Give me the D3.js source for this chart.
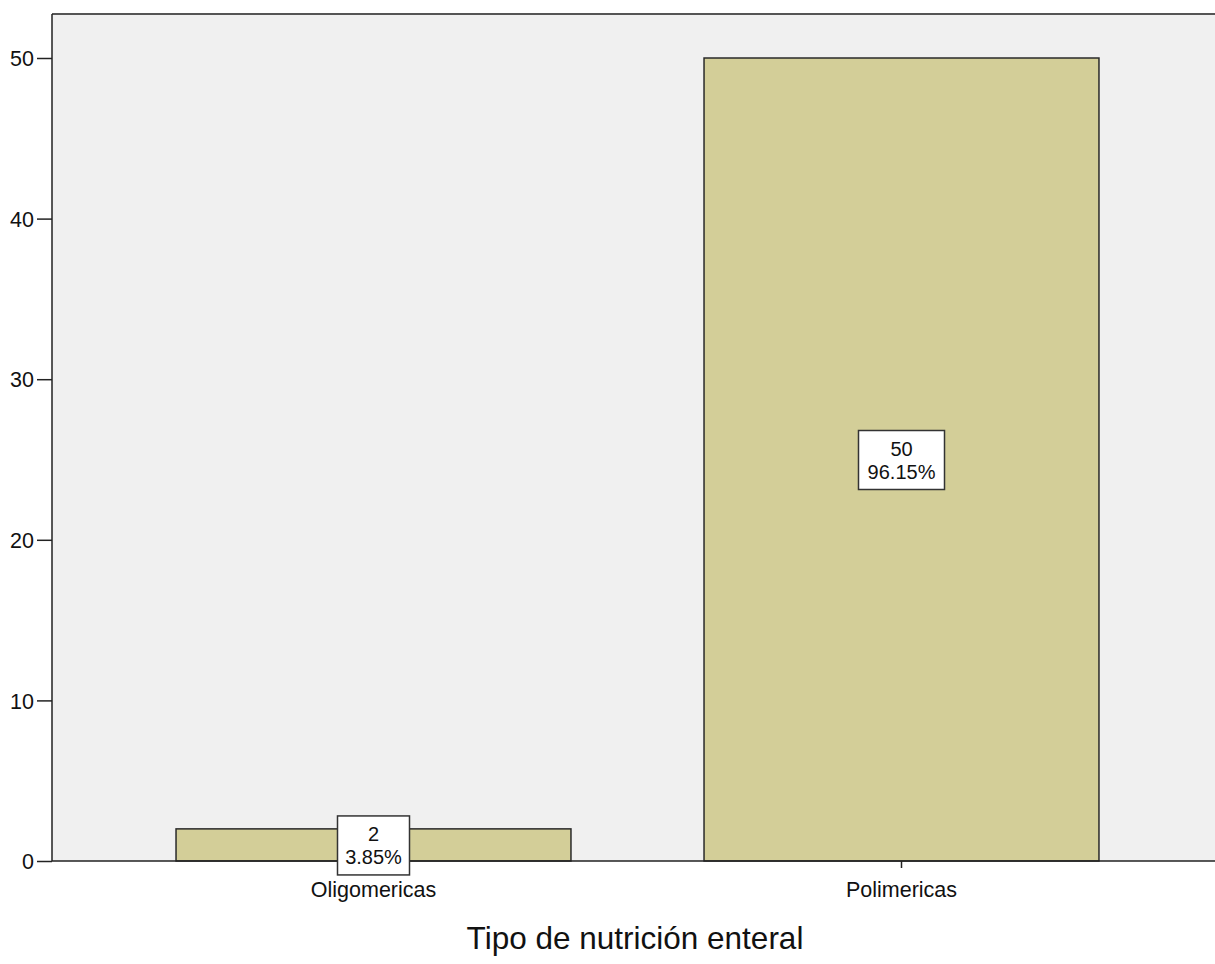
<!DOCTYPE html>
<html><head><meta charset="utf-8">
<script src="https://cdn.jsdelivr.net/npm/d3@7"></script>
<style>body{margin:0;background:#fff}svg{display:block}</style>
</head><body>
<svg id="c" width="1215" height="964"></svg>
<script>
const categories = ["Oligomericas", "Polimericas"];
const counts = [2, 50];
const percents = ["3.85%", "96.15%"];
const yTicks = [0, 10, 20, 30, 40, 50];
const xTitle = "Tipo de nutrición enteral";

const svg = d3.select("#c");
const L = 52, T = 14, R = 1215, B = 861;
const font = "'Liberation Sans', Arial, sans-serif";

const y = d3.scaleLinear().domain([0, 50]).range([B, 58]);
const x = d3.scaleBand().domain(categories).range([109.5, 1165.5]).paddingInner(0.252).paddingOuter(0.126);

svg.append("rect").attr("x", L).attr("y", T).attr("width", R - L + 5).attr("height", B - T).attr("fill", "#f0f0f0");

// bars
svg.selectAll(".bar").data(categories).join("rect")
  .attr("x", d => x(d)).attr("width", x.bandwidth())
  .attr("y", (d, i) => y(counts[i])).attr("height", (d, i) => B - y(counts[i]))
  .attr("fill", "#d3ce98").attr("stroke", "#2a2a2a").attr("stroke-width", 1.5);

// frame lines
svg.append("line").attr("x1", L).attr("x2", R).attr("y1", T).attr("y2", T).attr("stroke", "#555").attr("stroke-width", 2);
svg.append("line").attr("x1", L).attr("x2", L).attr("y1", T).attr("y2", B).attr("stroke", "#222").attr("stroke-width", 1.5);

// y axis
const ya = svg.append("g").attr("transform", `translate(${L},0)`)
  .call(d3.axisLeft(y).tickValues(yTicks).tickSize(15).tickPadding(3));
ya.select(".domain").remove();
ya.selectAll("line").attr("stroke", "#222").attr("stroke-width", 1.5);
ya.selectAll("text").attr("font-family", font).attr("font-size", 21.5).attr("fill", "#111").attr("dy", "0.36em");

// x axis
const xa = svg.append("g").attr("transform", `translate(0,${B})`)
  .call(d3.axisBottom(x).tickSize(7).tickPadding(5));
xa.select(".domain").remove();
svg.append("line").attr("x1", L).attr("x2", R).attr("y1", B).attr("y2", B).attr("stroke", "#222").attr("stroke-width", 1.5);
xa.selectAll("line").attr("stroke", "#222").attr("stroke-width", 1.5);
xa.selectAll("text").attr("font-family", font).attr("font-size", 21.5).attr("fill", "#111")
  .attr("dy", null).attr("y", 36);

// data labels
const lab = svg.selectAll(".lab").data(categories).join("g")
  .attr("transform", (d, i) => `translate(${x(d) + x.bandwidth() / 2},${y(counts[i] / 2)})`);
lab.append("rect")
  .attr("x", (d, i) => i === 0 ? -36 : -43).attr("width", (d, i) => i === 0 ? 72 : 86)
  .attr("y", -29).attr("height", 59)
  .attr("fill", "#fff").attr("stroke", "#333").attr("stroke-width", 1.5);
lab.append("text").attr("text-anchor", "middle").attr("y", -4)
  .attr("font-family", font).attr("font-size", 20).attr("fill", "#111")
  .text((d, i) => counts[i]);
lab.append("text").attr("text-anchor", "middle").attr("y", 19)
  .attr("font-family", font).attr("font-size", 20).attr("fill", "#111")
  .text((d, i) => percents[i]);

// title
svg.append("text").attr("x", 635).attr("y", 949).attr("text-anchor", "middle")
  .attr("font-family", font).attr("font-size", 31.5).attr("fill", "#111").text(xTitle);
</script>
</body></html>
